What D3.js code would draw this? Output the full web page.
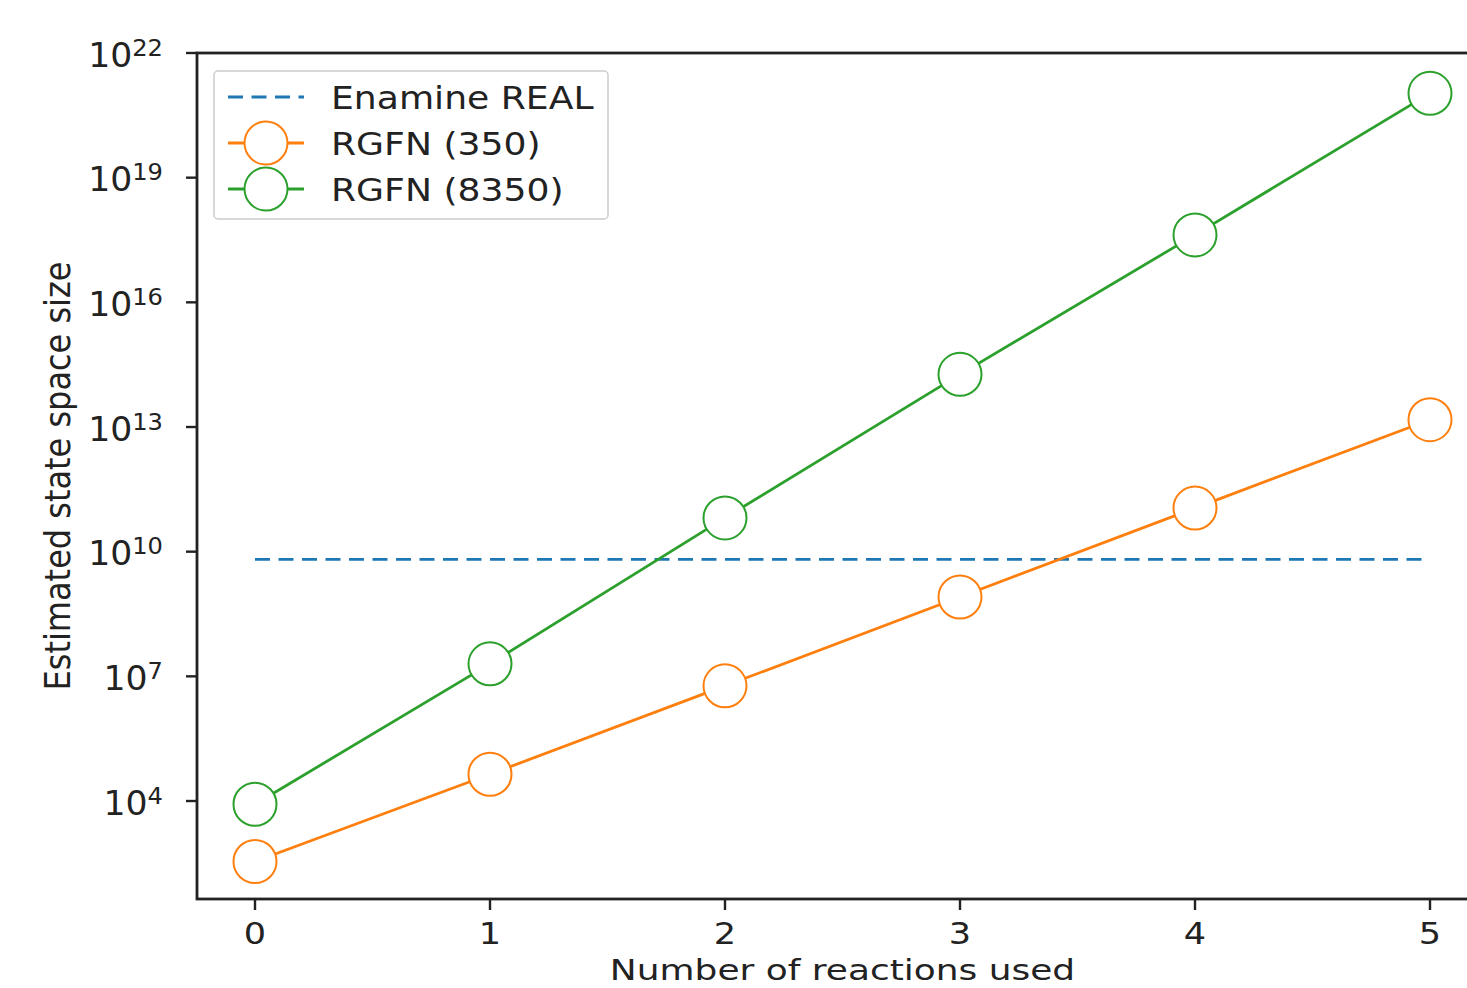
<!DOCTYPE html>
<html>
<head>
<meta charset="utf-8">
<script src="https://cdn.jsdelivr.net/npm/d3@7"></script>
<style>
  body { margin: 0; background: #fff; }
  svg { display: block; font-family: "DejaVu Sans", sans-serif; }
</style>
</head>
<body>
<svg id="chart" width="1467" height="988"></svg>
<script>
// data (log10 values converted back)
const reactions = [0, 1, 2, 3, 4, 5]
const rgfn350 = [350, 4.4e4, 5.9e6, 8.1e8, 1.12e11, 1.5e13]
const rgfn8350 = [8350, 2.0e7, 6.5e10, 1.85e14, 4.2e17, 1.07e21]
const enamineReal = 6.5e9
const yTicks = [4, 7, 10, 13, 16, 19, 22]
const xTicks = [0, 1, 2, 3, 4, 5]

const svg = d3.select('#chart')
const plotLeft = 197, plotTop = 53, plotRight = 1488, plotBottom = 899
const stretch = 1.13   // the source picture is a bit wider than tall

const x = d3.scaleLinear().domain([-0.2468, 5.2468]).range([plotLeft, plotRight])
const y = d3.scaleLog().domain([Math.pow(10, 1.642), 1e22]).range([plotBottom, plotTop])

const tab = { blue: '#1f77b4', orange: '#ff7f0e', green: '#2ca02c' }
const ink = '#222'

// enamine reference line
svg.append('line')
  .attr('x1', x(0)).attr('x2', x(5))
  .attr('y1', y(enamineReal)).attr('y2', y(enamineReal))
  .attr('stroke', tab.blue).attr('stroke-width', 2.8)
  .attr('stroke-dasharray', '15,8.5')

const line = d3.line().x(d => x(d[0])).y(d => y(d[1]))

const drawSeries = (values, color) => {
  const pts = reactions.map((r, i) => [r, values[i]])
  svg.append('path')
    .datum(pts)
    .attr('d', line)
    .attr('fill', 'none')
    .attr('stroke', color)
    .attr('stroke-width', 2.8)
  svg.append('g').selectAll('circle')
    .data(pts).join('circle')
    .attr('cx', d => x(d[0])).attr('cy', d => y(d[1]))
    .attr('r', 21.5)
    .attr('fill', '#fff')
    .attr('stroke', color)
    .attr('stroke-width', 2)
}
drawSeries(rgfn350, tab.orange)
drawSeries(rgfn8350, tab.green)

// axes frame
svg.append('rect')
  .attr('x', plotLeft).attr('y', plotTop)
  .attr('width', plotRight - plotLeft).attr('height', plotBottom - plotTop)
  .attr('fill', 'none').attr('stroke', ink).attr('stroke-width', 2.8)

// text placed at (tx, ty) and widened like the source
const wideText = (g, tx, ty, size, anchor, sx = stretch) => g.append('text')
  .attr('transform', `translate(${tx},${ty}) scale(${sx},1)`)
  .attr('text-anchor', anchor)
  .attr('font-size', size).attr('fill', ink)

// x ticks
const xg = svg.append('g')
xg.selectAll('line').data(xTicks).join('line')
  .attr('x1', d => x(d)).attr('x2', d => x(d))
  .attr('y1', plotBottom).attr('y2', plotBottom + 11)
  .attr('stroke', ink).attr('stroke-width', 2.4)
xTicks.forEach(t => wideText(xg, x(t), plotBottom + 45, 30, 'middle', 1.17).text(t))

// y ticks
const yg = svg.append('g')
yg.selectAll('line').data(yTicks).join('line')
  .attr('x1', plotLeft - 11).attr('x2', plotLeft)
  .attr('y1', d => y(Math.pow(10, d))).attr('y2', d => y(Math.pow(10, d)))
  .attr('stroke', ink).attr('stroke-width', 2.4)
yTicks.forEach(t => {
  const lbl = yg.append('text')
    .attr('transform', `translate(${plotLeft - 34},${y(Math.pow(10, t)) + 13.5}) scale(1.05,1)`)
    .attr('text-anchor', 'end')
    .attr('font-size', 33).attr('fill', ink)
  lbl.append('tspan').text('10')
  lbl.append('tspan').attr('dy', -11).attr('font-size', 23).text(t)
})

// axis labels
wideText(svg, (plotLeft + plotRight) / 2, 980, 29, 'middle', 1.24).text('Number of reactions used')
svg.append('text')
  .attr('transform', `translate(70,${(plotTop + plotBottom) / 2}) rotate(-90) scale(1,${stretch})`)
  .attr('text-anchor', 'middle')
  .attr('font-size', 32).attr('fill', ink)
  .text('Estimated state space size')

// legend
const lg = svg.append('g')
lg.append('rect')
  .attr('x', 214).attr('y', 71).attr('width', 394).attr('height', 148)
  .attr('rx', 4)
  .attr('fill', '#fff').attr('fill-opacity', 0.8)
  .attr('stroke', '#ccc').attr('stroke-width', 1.5)
const legendItems = [
  { label: 'Enamine REAL', color: tab.blue, dashed: true },
  { label: 'RGFN (350)', color: tab.orange },
  { label: 'RGFN (8350)', color: tab.green }
]
legendItems.forEach((it, i) => {
  const cy = 97 + i * 46
  lg.append('line')
    .attr('x1', 228).attr('x2', 304).attr('y1', cy).attr('y2', cy)
    .attr('stroke', it.color).attr('stroke-width', 2.8)
    .attr('stroke-dasharray', it.dashed ? '15,8.5' : null)
  if (!it.dashed) {
    lg.append('circle')
      .attr('cx', 266).attr('cy', cy).attr('r', 21.5)
      .attr('fill', '#fff').attr('stroke', it.color).attr('stroke-width', 2)
  }
  wideText(lg, 331, cy + 12, 32, 'start').text(it.label)
})
</script>
</body>
</html>
